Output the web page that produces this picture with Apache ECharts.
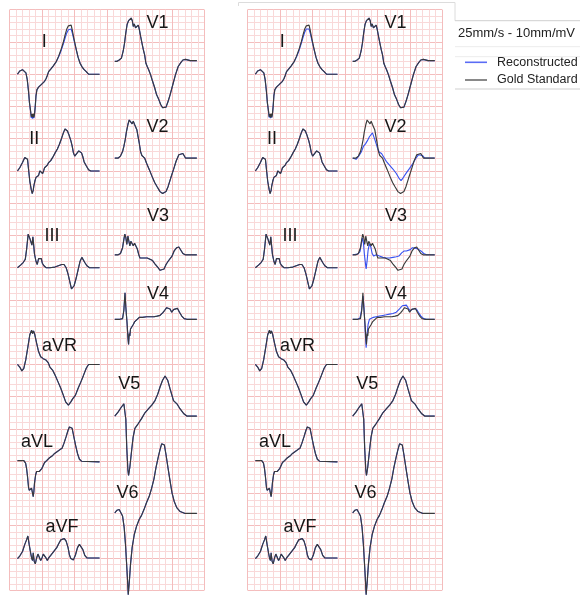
<!DOCTYPE html>
<html><head><meta charset="utf-8">
<script src="https://cdn.jsdelivr.net/npm/echarts@6/dist/echarts.min.js"></script>
<style>html,body{margin:0;padding:0;background:#fff}#c{width:580px;height:595px}</style>
</head><body><div id="c"></div>
<script>
// ---------- DATA: time in ms, amplitude in mV (one beat per lead) ----------
const LEADS = ['I','II','III','aVR','aVL','aVF','V1','V2','V3','V4','V5','V6'];
const PANELS = ['A','B'];
const SERIES_NAMES = ['Reconstructed','Gold Standard'];
const CAPTION = '25mm/s - 10mm/mV';

// Gold standard (same in both panels)
const gold_I = [[0,0],[14,0.05],[31,0.07],[41,0.06],[52,0.02],[60,-0.08],[68,-0.26],[74,-0.44],[81,-0.57],[85,-0.66],[89,-0.62],[93,-0.67],[97,-0.61],[101,-0.67],[105,-0.62],[110,-0.49],[114,-0.34],[120,-0.24],[130,-0.2],[143,-0.17],[155,-0.15],[167,-0.11],[176,-0.07],[184,-0.02],[192,0.04],[205,0.08],[221,0.13],[238,0.19],[254,0.28],[271,0.4],[283,0.5],[295,0.62],[304,0.7],[314,0.75],[322,0.78],[331,0.76],[339,0.67],[349,0.54],[362,0.39],[374,0.26],[386,0.17],[399,0.11],[411,0.07],[424,0.04],[438,0],[506,0]];
const gold_II = [[0,0],[14,0.05],[31,0.13],[45,0.21],[56,0.23],[62,0.18],[68,0.03],[76,-0.16],[85,-0.29],[91,-0.35],[97,-0.3],[101,-0.23],[107,-0.16],[114,-0.1],[122,-0.13],[130,-0.07],[138,0],[147,0.02],[155,-0.04],[161,0],[167,0.05],[176,0.08],[184,0.09],[192,0.13],[205,0.16],[217,0.21],[232,0.28],[246,0.34],[258,0.41],[271,0.5],[283,0.59],[293,0.65],[300,0.66],[308,0.62],[316,0.57],[329,0.47],[337,0.39],[345,0.28],[353,0.23],[365,0.26],[378,0.31],[386,0.32],[395,0.28],[403,0.22],[411,0.14],[424,0.08],[438,0.02],[452,0],[506,0]];
const gold_III = [[0,0],[19,0.04],[35,0.08],[48,0.13],[56,0.28],[66,0.52],[78,0.44],[89,0.35],[95,0.48],[105,0.21],[114,0.1],[122,0.05],[130,0.14],[138,0.17],[147,0.14],[153,0.07],[163,0.03],[176,0],[200,0],[231,0.01],[252,0.03],[273,0.05],[287,0.05],[300,0],[312,-0.1],[324,-0.23],[333,-0.33],[341,-0.35],[349,-0.28],[362,-0.16],[374,-0.03],[386,0.1],[397,0.16],[405,0.14],[415,0.08],[428,0.03],[444,0],[506,0]];
const gold_aVR = [[0,0],[14,-0.04],[27,-0.1],[39,-0.06],[51,0.07],[64,0.27],[76,0.46],[87,0.53],[93,0.48],[99,0.52],[107,0.46],[118,0.33],[130,0.2],[143,0.12],[159,0.09],[175,0.07],[189,0.03],[200,-0.04],[217,-0.09],[233,-0.17],[250,-0.27],[267,-0.37],[283,-0.48],[297,-0.58],[314,-0.63],[329,-0.58],[341,-0.53],[357,-0.48],[374,-0.37],[391,-0.27],[407,-0.17],[424,-0.06],[438,0],[506,0]];
const gold_aVL = [[0,0.01],[25,0.01],[39,0.01],[50,-0.03],[56,-0.11],[62,-0.24],[68,-0.4],[72,-0.45],[76,-0.44],[81,-0.47],[87,-0.42],[93,-0.5],[97,-0.55],[101,-0.47],[105,-0.34],[112,-0.21],[118,-0.16],[126,-0.18],[134,-0.16],[143,-0.13],[151,-0.11],[159,-0.08],[167,-0.02],[180,0.01],[196,0.05],[213,0.08],[229,0.12],[246,0.15],[262,0.18],[275,0.2],[287,0.28],[300,0.38],[312,0.48],[320,0.53],[329,0.55],[337,0.51],[345,0.41],[358,0.25],[370,0.12],[382,0.03],[395,0],[407,-0.01],[506,-0.01]];
const gold_aVF = [[0,-0.01],[14,0.03],[31,0.1],[45,0.21],[56,0.28],[64,0.34],[72,0.21],[81,0.08],[87,0],[93,-0.04],[97,0.08],[103,-0.05],[110,-0.09],[118,0],[126,0.06],[134,0.03],[143,-0.04],[151,0],[159,0.06],[167,0.05],[176,0],[184,-0.04],[192,0],[205,0.04],[217,0.08],[229,0.11],[242,0.16],[254,0.22],[267,0.28],[279,0.31],[289,0.3],[300,0.26],[312,0.16],[320,0.05],[329,-0.01],[337,-0.04],[345,-0.03],[358,0.05],[370,0.16],[382,0.21],[391,0.2],[403,0.13],[415,0.04],[428,0],[506,0]];
const gold_V1 = [[0,0],[14,0],[27,0.02],[41,0.05],[52,0.16],[60,0.28],[68,0.44],[76,0.57],[85,0.63],[93,0.65],[101,0.67],[108,0.63],[114,0.54],[120,0.58],[128,0.52],[136,0.53],[145,0.56],[151,0.5],[159,0.39],[167,0.29],[176,0.18],[184,0.1],[192,-0.03],[200,-0.08],[209,-0.13],[221,-0.21],[233,-0.31],[246,-0.41],[258,-0.52],[271,-0.59],[283,-0.67],[295,-0.72],[306,-0.74],[316,-0.71],[329,-0.62],[341,-0.52],[358,-0.36],[374,-0.21],[391,-0.08],[407,-0.02],[420,0.02],[436,0.03],[465,0.01],[506,0.01]];
const gold_V2 = [[0,0],[21,0],[35,0.03],[48,0.1],[56,0.18],[64,0.28],[72,0.41],[81,0.52],[89,0.59],[95,0.62],[101,0.57],[107,0.53],[114,0.57],[122,0.52],[128,0.5],[136,0.44],[143,0.34],[151,0.23],[159,0.1],[167,0.04],[176,0.07],[184,0],[196,-0.08],[213,-0.18],[229,-0.28],[246,-0.38],[262,-0.45],[279,-0.52],[295,-0.55],[306,-0.55],[316,-0.52],[329,-0.44],[345,-0.31],[362,-0.18],[378,-0.05],[395,0.05],[407,0.08],[420,0.07],[436,0],[465,0],[506,0]];
const gold_V3 = [[0,0],[21,0],[35,0.02],[48,0.11],[56,0.24],[62,0.32],[68,0.27],[74,0.16],[81,0.29],[87,0.21],[93,0.14],[99,0.21],[107,0.18],[114,0.14],[122,0.18],[130,0.15],[139,0.09],[147,0.01],[155,-0.05],[167,-0.07],[184,-0.05],[200,-0.05],[217,-0.07],[233,-0.09],[250,-0.15],[267,-0.2],[279,-0.24],[291,-0.25],[304,-0.22],[316,-0.15],[329,-0.1],[341,-0.08],[353,-0.02],[366,0.06],[382,0.11],[395,0.12],[407,0.09],[420,0.02],[434,0],[506,0]];
const gold_V4 = [[0,0],[31,0],[48,0.01],[56,0.14],[60,0.3],[63,0.41],[68,0.19],[76,-0.07],[81,-0.28],[85,-0.39],[89,-0.22],[93,-0.26],[97,-0.15],[105,-0.12],[114,-0.08],[122,-0.04],[134,-0.02],[151,0.03],[171,0.03],[196,0.04],[221,0.04],[242,0.04],[262,0.05],[279,0.06],[295,0.1],[308,0.14],[320,0.18],[331,0.2],[341,0.16],[351,0.11],[362,0.15],[374,0.18],[386,0.17],[399,0.11],[413,0.05],[428,0.01],[444,0],[506,0]];
const gold_V5 = [[0,0],[20,0.06],[41,0.14],[56,0.19],[62,0.22],[68,-0.05],[74,-0.5],[81,-0.84],[85,-0.92],[93,-0.79],[104,-0.53],[113,-0.33],[124,-0.19],[144,-0.12],[165,-0.04],[186,0.05],[207,0.11],[228,0.17],[248,0.24],[265,0.34],[279,0.45],[294,0.55],[310,0.62],[327,0.55],[341,0.42],[362,0.24],[383,0.19],[403,0.11],[424,0.04],[444,0],[506,0]];
const gold_V6 = [[0,0],[14,0.04],[27,0.05],[39,0.04],[48,-0.05],[58,-0.23],[66,-0.49],[72,-0.75],[79,-1.06],[83,-1.27],[89,-1.09],[97,-0.8],[107,-0.54],[120,-0.34],[134,-0.21],[151,-0.1],[165,-0.04],[180,0.05],[196,0.16],[213,0.26],[227,0.38],[242,0.53],[254,0.7],[267,0.85],[279,0.98],[289,1.07],[298,1.09],[306,1.05],[316,0.9],[328,0.7],[341,0.49],[353,0.31],[366,0.18],[382,0.08],[403,0.02],[434,-0.01],[506,-0.01]];

// Reconstructions where they visibly differ from the gold standard
const reconA_I = [[0,0],[14,0.05],[31,0.07],[41,0.06],[52,0.02],[60,-0.08],[68,-0.27],[74,-0.45],[81,-0.58],[85,-0.68],[89,-0.64],[93,-0.69],[97,-0.63],[101,-0.68],[105,-0.62],[110,-0.48],[114,-0.33],[120,-0.24],[130,-0.2],[143,-0.17],[155,-0.15],[167,-0.11],[176,-0.07],[184,-0.02],[192,0.04],[205,0.08],[221,0.13],[238,0.19],[254,0.27],[271,0.38],[283,0.47],[295,0.57],[304,0.64],[314,0.69],[322,0.71],[331,0.7],[339,0.63],[349,0.52],[362,0.38],[374,0.26],[386,0.17],[399,0.11],[411,0.07],[424,0.04],[438,0],[506,0]];
const reconB_I = [[0,0],[14,0.05],[31,0.07],[41,0.06],[52,0.02],[60,-0.08],[68,-0.27],[74,-0.45],[81,-0.58],[85,-0.67],[89,-0.63],[93,-0.68],[97,-0.62],[101,-0.67],[105,-0.62],[110,-0.48],[114,-0.33],[120,-0.24],[130,-0.2],[143,-0.17],[155,-0.15],[167,-0.11],[176,-0.07],[184,-0.02],[192,0.04],[205,0.08],[221,0.13],[238,0.19],[254,0.27],[271,0.38],[283,0.48],[295,0.58],[304,0.65],[314,0.7],[322,0.72],[331,0.7],[339,0.63],[349,0.52],[362,0.38],[374,0.26],[386,0.17],[399,0.11],[411,0.07],[424,0.04],[438,0],[506,0]];
const reconB_V2 = [[0,0],[21,-0.02],[37,0.03],[54,0.1],[66,0.18],[79,0.22],[91,0.27],[103,0.33],[114,0.34],[122,0.39],[130,0.36],[136,0.29],[145,0.22],[155,0.14],[165,0.09],[178,0.07],[190,0.02],[207,-0.05],[227,-0.11],[248,-0.17],[269,-0.24],[285,-0.31],[298,-0.35],[310,-0.31],[331,-0.23],[351,-0.16],[372,-0.08],[388,-0.01],[405,0.05],[417,0.06],[430,0.04],[444,0],[506,0]];
const reconB_V3 = [[0,0],[31,0.01],[45,0.05],[54,0.18],[60,0.26],[66,0.19],[72,0.01],[79,-0.14],[83,-0.22],[89,-0.09],[95,0.07],[103,0.17],[112,0.12],[120,0.02],[130,-0.02],[145,0],[165,-0.02],[186,-0.04],[207,-0.05],[227,-0.05],[248,-0.04],[269,-0.03],[285,-0.02],[302,0.03],[318,0.06],[331,0.06],[343,0.05],[355,0.08],[368,0.11],[380,0.11],[393,0.1],[405,0.08],[421,0.06],[438,0.02],[455,0],[506,0]];
const reconB_V4 = [[0,0],[31,0],[45,0.02],[54,0.13],[60,0.28],[64,0.36],[70,0.18],[76,-0.13],[83,-0.44],[89,-0.23],[95,-0.08],[103,0],[114,0.03],[128,0.03],[145,0.04],[165,0.05],[186,0.06],[207,0.07],[227,0.08],[248,0.09],[269,0.11],[289,0.16],[306,0.21],[318,0.24],[331,0.22],[343,0.17],[355,0.13],[368,0.16],[380,0.17],[393,0.16],[405,0.11],[421,0.05],[438,0.01],[455,0],[506,0]];

const gold = {I:gold_I,II:gold_II,III:gold_III,aVR:gold_aVR,aVL:gold_aVL,aVF:gold_aVF,V1:gold_V1,V2:gold_V2,V3:gold_V3,V4:gold_V4,V5:gold_V5,V6:gold_V6};
const recon = {
  A: Object.assign({}, gold, {I: reconA_I}),
  B: Object.assign({}, gold, {I: reconB_I, V2: reconB_V2, V3: reconB_V3, V4: reconB_V4})
};

// ---------- LAYOUT (paper mm; 25 mm/s, 10 mm/mV) ----------
const PAPER_W = 30, PAPER_H = 90, MM_PER_MS = 0.025, MM_PER_MV = 10;
const COL_X = {I:1.2,II:1.2,III:1.2,aVR:1.2,aVL:1.2,aVF:1.2,V1:16.2,V2:16.2,V3:16.2,V4:16.2,V5:16.2,V6:16.2};
const BASE_FROM_TOP = {I:10,II:25,III:40,aVR:55,aVL:70,aVF:85,V1:8,V2:23,V3:38,V4:48,V5:63,V6:78};
const PANEL_LEFT = [9.7, 247.6], PANEL_TOP = 9.7, PANEL_W = 194.6, PANEL_H = 580.5;
const PANEL_SHIFT = PANEL_LEFT[1] - PANEL_LEFT[0];
// label positions in panel A pixels (left x, middle y)
const LABEL_POS = {I:[41.8,41.7],II:[29.2,139],III:[44.5,235.8],aVR:[42,345.8],aVL:[21,442.5],aVF:[45.5,527],V1:[146.5,23.3],V2:[146.5,127.5],V3:[147,216.3],V4:[147,294],V5:[118.3,384],V6:[116.5,492.7]};

const BLUE = '#3550f0', BLACK = '#3a3a3a';
const MAJOR = '#f4bdbd', MINOR = '#f9d9d9';
const FONT = '"Liberation Sans", Arial, sans-serif';

function toPaper(data, lead) {
  return data.map(([t, v]) => [COL_X[lead] + t * MM_PER_MS, PAPER_H - BASE_FROM_TOP[lead] + v * MM_PER_MV]);
}

const grids = PANEL_LEFT.map(l => ({left: l, top: PANEL_TOP, width: PANEL_W, height: PANEL_H, show: false}));
const axisCommon = {
  type: 'value', interval: 5,
  axisLine: {show: false}, axisTick: {show: false}, axisLabel: {show: false},
  splitLine: {show: true, lineStyle: {color: MAJOR, width: 1}},
  minorTick: {show: false, splitNumber: 5},
  minorSplitLine: {show: true, lineStyle: {color: MINOR, width: 1}}
};
const xAxes = PANELS.map((p, i) => Object.assign({gridIndex: i, min: 0, max: PAPER_W}, axisCommon));
const yAxes = PANELS.map((p, i) => Object.assign({gridIndex: i, min: 0, max: PAPER_H}, axisCommon));

const series = [];
[0, 1].forEach(kind => {
  PANELS.forEach((p, i) => {
    LEADS.forEach(lead => {
      const src = kind === 0 ? recon[p][lead] : gold[lead];
      series.push({
        type: 'line', name: SERIES_NAMES[kind], xAxisIndex: i, yAxisIndex: i,
        data: toPaper(src, lead), showSymbol: false, symbol: 'none', clip: false, silent: true,
        lineStyle: {color: kind === 0 ? BLUE : BLACK, width: kind === 0 ? 1.1 : 1.15},
        z: 2 + kind
      });
    });
  });
});

const graphics = [];
PANELS.forEach((p, i) => {
  LEADS.forEach(lead => {
    const [x, y] = LABEL_POS[lead];
    graphics.push({type: 'text', x: x + i * PANEL_SHIFT, y: y, z: 10,
      style: {text: lead, font: '18px ' + FONT, fill: '#161616', verticalAlign: 'middle', align: 'left'}});
  });
});
// frame and legend box
graphics.push({type: 'polyline', shape: {points: [[238.5, 6], [238.5, 2.5], [455, 2.5], [455, 20.7]]}, style: {stroke: '#dcdcdc', lineWidth: 1, fill: null}});
graphics.push({type: 'line', shape: {x1: 455, y1: 20.7, x2: 580, y2: 20.7}, style: {stroke: '#cfcfcf', lineWidth: 1}});
graphics.push({type: 'line', shape: {x1: 455, y1: 46.7, x2: 580, y2: 46.7}, style: {stroke: '#ececec', lineWidth: 1}});
graphics.push({type: 'line', shape: {x1: 455, y1: 56.7, x2: 580, y2: 56.7}, style: {stroke: '#ececec', lineWidth: 1}});
graphics.push({type: 'line', shape: {x1: 455, y1: 89, x2: 580, y2: 89}, style: {stroke: '#cfcfcf', lineWidth: 1}});
graphics.push({type: 'text', x: 458, y: 33.5, style: {text: CAPTION, font: '13px ' + FONT, fill: '#222', verticalAlign: 'middle'}});
graphics.push({type: 'line', shape: {x1: 465, y1: 62.3, x2: 487, y2: 62.3}, style: {stroke: '#5a6cf5', lineWidth: 1.6}});
graphics.push({type: 'text', x: 497, y: 62.3, style: {text: SERIES_NAMES[0], font: '12.5px ' + FONT, fill: '#222', verticalAlign: 'middle'}});
graphics.push({type: 'line', shape: {x1: 465, y1: 80, x2: 487, y2: 80}, style: {stroke: BLACK, lineWidth: 1.2}});
graphics.push({type: 'text', x: 497, y: 80, style: {text: SERIES_NAMES[1], font: '12.5px ' + FONT, fill: '#222', verticalAlign: 'middle'}});

const chart = echarts.init(document.getElementById('c'), null, {renderer: 'canvas'});
chart.setOption({
  animation: false,
  backgroundColor: '#ffffff',
  grid: grids, xAxis: xAxes, yAxis: yAxes,
  series: series,
  graphic: graphics
});
</script></body></html>
